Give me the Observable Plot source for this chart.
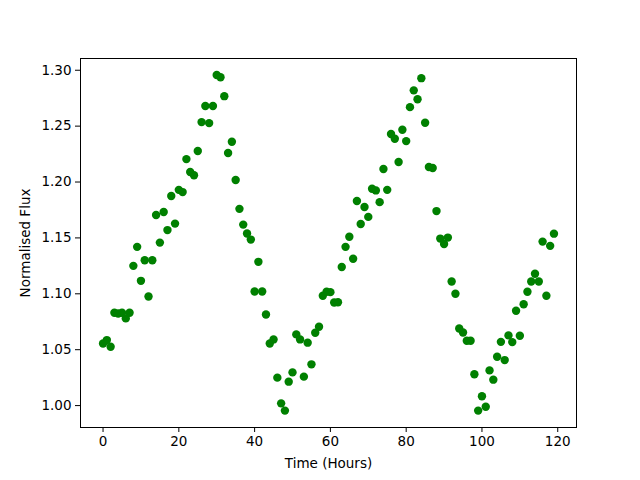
<!DOCTYPE html>
<html>
<head>
<meta charset="utf-8">
<script src="https://cdn.jsdelivr.net/npm/d3@7"></script>
<script src="https://cdn.jsdelivr.net/npm/@observablehq/plot@0.6"></script>
<style>
  html, body { margin: 0; padding: 0; background: #fff; }
</style>
</head>
<body>
<div id="chart"></div>
<script>
const hours = d3.range(0, 120);
const flux = [
  1.0556, 1.0586, 1.0527, 1.083, 1.0824, 1.083, 1.078, 1.083, 1.125, 1.142,
  1.1116, 1.130, 1.0976, 1.130, 1.1705, 1.1458, 1.1732, 1.157, 1.1875, 1.1628,
  1.193, 1.191, 1.2205, 1.209, 1.206, 1.2277, 1.2536, 1.268, 1.2527, 1.268,
  1.2958, 1.2937, 1.2768, 1.226, 1.236, 1.2018, 1.176, 1.1619, 1.154, 1.1485,
  1.102, 1.1286, 1.102, 1.0815, 1.0556, 1.0592, 1.025, 1.002, 0.9955, 1.0214,
  1.0297, 1.0637, 1.0592, 1.0259, 1.0563, 1.0369, 1.0652, 1.0705, 1.0982, 1.1018,
  1.1015, 1.0922, 1.0925, 1.124, 1.142, 1.151, 1.1313, 1.183, 1.1625, 1.1777,
  1.1688, 1.194, 1.1925, 1.182, 1.2116, 1.193, 1.243, 1.2387, 1.2179, 1.2467,
  1.2366, 1.267, 1.282, 1.274, 1.2929, 1.253, 1.2134, 1.2125, 1.174, 1.1494,
  1.1446, 1.1503, 1.111, 1.100, 1.069, 1.0654, 1.058, 1.058, 1.028, 0.9955,
  1.0083, 0.999, 1.0315, 1.0232, 1.0437, 1.057, 1.0407, 1.0628, 1.0568, 1.0848,
  1.0625, 1.0907, 1.1018, 1.111, 1.118, 1.111, 1.1467, 1.0982, 1.1429, 1.1538
];
const xTicks = [0, 20, 40, 60, 80, 100, 120];
const yTicks = [1.00, 1.05, 1.10, 1.15, 1.20, 1.25, 1.30];

const data = hours.map((h, i) => ({hour: h, flux: flux[i]}));

const chart = Plot.plot({
  width: 640,
  height: 480,
  marginLeft: 80,
  marginRight: 64,
  marginTop: 58,
  marginBottom: 53,
  style: {fontFamily: "DejaVu Sans", fontSize: "13.5px", color: "#000", background: "#fff"},
  x: {
    domain: [-5.95, 124.95],
    ticks: xTicks,
    tickSize: 5,
    tickPadding: 4,
    label: "Time (Hours)",
    labelAnchor: "center",
    labelArrow: "none",
    labelOffset: 40
  },
  y: {
    domain: [0.9804, 1.3105],
    ticks: yTicks,
    tickFormat: d3.format(".2f"),
    tickSize: 5,
    tickPadding: 4,
    label: "Normalised Flux",
    labelAnchor: "center",
    labelArrow: "none",
    labelOffset: 60
  },
  marks: [
    Plot.frame({stroke: "#000", strokeWidth: 1}),
    Plot.dot(data, {x: "hour", y: "flux", r: 4.2, fill: "#008000", stroke: "none"})
  ]
});
document.getElementById("chart").appendChild(chart);
</script>
</body>
</html>
